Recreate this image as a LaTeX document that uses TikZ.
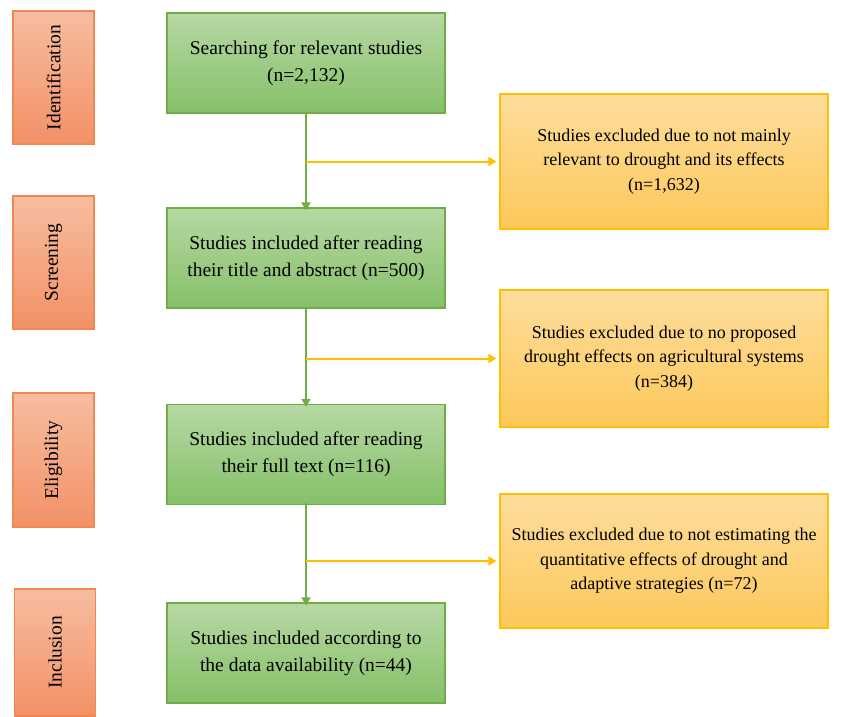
\documentclass[tikz,border=0pt]{standalone}
\usepackage{fontspec}
\setmainfont{LiberationSerif}[Extension=.ttf,UprightFont=*-Regular,BoldFont=*-Bold]
\usetikzlibrary{arrows.meta}
\definecolor{greentop}{RGB}{183, 216, 164}
\definecolor{greenbot}{RGB}{133, 192, 104}
\definecolor{greenline}{RGB}{112, 173, 71}
\definecolor{yellowtop}{RGB}{254, 221, 156}
\definecolor{yellowbot}{RGB}{252, 200, 90}
\definecolor{yellowline}{RGB}{255, 192, 0}
\definecolor{orangetop}{RGB}{247, 189, 160}
\definecolor{orangebot}{RGB}{243, 145, 103}
\definecolor{orangeline}{RGB}{240, 136, 84}

\tikzset{
    stage/.style={draw=orangeline,line width=1.2pt,top color=orangetop,bottom color=orangebot,minimum width=81pt,minimum height=133pt,inner sep=0pt,font=\rmfamily\fontsize{19.5}{24}\selectfont},
    kept/.style={draw=greenline,line width=1.2pt,top color=greentop,bottom color=greenbot,minimum width=278pt,minimum height=100pt,align=center,font=\rmfamily\fontsize{19.5}{27}\selectfont},
    dropped/.style={draw=yellowline,line width=1.2pt,top color=yellowtop,bottom color=yellowbot,minimum width=328pt,minimum height=135pt,align=center,font=\rmfamily\fontsize{18}{24.5}\selectfont},
    flow/.style={draw=greenline,line width=2pt,-{Triangle[width=9pt,length=8pt]}},
    skip/.style={draw=yellowline,line width=2pt,-{Triangle[width=9pt,length=8pt]}}
}

\begin{document}
\begin{tikzpicture}[x=1pt,y=-1pt]
        \useasboundingbox (0,0) rectangle (842,716);

        \coordinate (l1) at (53.5,77.5);
        \coordinate (l2) at (53.5,262.5);
        \coordinate (l3) at (53.5,460);
        \coordinate (l4) at (55,652.5);

        \coordinate (g1) at (306,63);
        \coordinate (g2) at (306,258);
        \coordinate (g3) at (306,454.5);
        \coordinate (g4) at (306,653);

        \coordinate (x1) at (664,161.5);
        \coordinate (x2) at (664,358.5);
        \coordinate (x3) at (664,561);

        \node[stage] (Identification) at (l1) {\rotatebox{90}{Identification}};
        \node[stage] (Screening) at (l2) {\rotatebox{90}{Screening}};
        \node[stage,minimum height=134pt] (Eligibility) at (l3) {\rotatebox{90}{Eligibility}};
        \node[stage,minimum height=127pt] (Inclusion) at (l4) {\rotatebox{90}{Inclusion}};

        \node[kept] (Searching) at (g1) {Searching for relevant studies\\(n=2,132)};
        \node[kept] (Abstract) at (g2) {Studies included after reading\\their title and abstract (n=500)};
        \node[kept] (FullText) at (g3) {Studies included after reading\\their full text (n=116)};
        \node[kept] (Available) at (g4) {Studies included according to\\the data availability (n=44)};

        \node[dropped] (NotRelevant) at (x1) {Studies excluded due to not mainly\\relevant to drought and its effects\\(n=1,632)};
        \node[dropped,minimum height=137pt] (NoEffects) at (x2) {Studies excluded due to no proposed\\drought effects on agricultural systems\\(n=384)};
        \node[dropped,minimum height=134pt] (NotEstimated) at (x3) {Studies excluded due to not estimating the\\quantitative effects of drought and\\adaptive strategies (n=72)};

        \draw[flow] ([yshift=2pt]Searching.south) -- ([yshift=-3pt]Abstract.north);
        \draw[flow] ([yshift=2pt]Abstract.south) -- ([yshift=-3pt]FullText.north);
        \draw[flow] ([yshift=2pt]FullText.south) -- ([yshift=-3pt]Available.north);

        \draw[skip] (Searching.south |- NotRelevant.west) -- ([xshift=-3pt]NotRelevant.west);
        \draw[skip] (Abstract.south |- NoEffects.west) -- ([xshift=-3pt]NoEffects.west);
        \draw[skip] (FullText.south |- NotEstimated.west) -- ([xshift=-3pt]NotEstimated.west);
\end{tikzpicture}
\end{document}
